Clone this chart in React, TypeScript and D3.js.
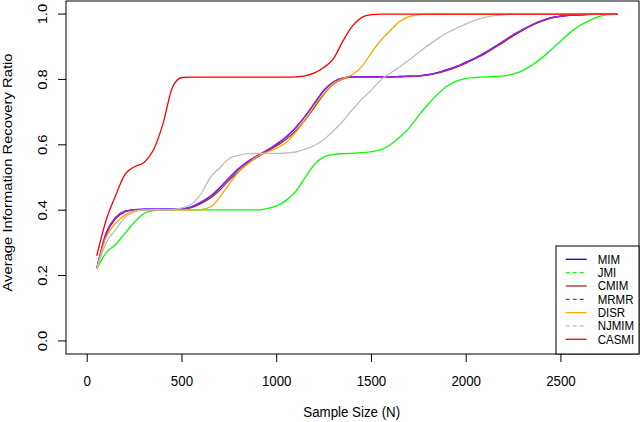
import React from "react";
import * as d3 from "d3";

const sampleSizes: number[] = d3.range(50, 2801, 50);

const MIM = [0.22,0.33,0.378,0.397,0.402,0.403,0.403,0.403,0.403,0.404,0.41,0.424,0.442,0.469,0.499,0.527,0.549,0.567,0.583,0.602,0.624,0.652,0.687,0.727,0.767,0.792,0.805,0.808,0.808,0.808,0.808,0.808,0.809,0.81,0.811,0.815,0.821,0.83,0.84,0.853,0.866,0.882,0.9,0.918,0.937,0.953,0.968,0.98,0.989,0.994,0.997,0.998,0.999,1,1,1];
const JMI = [0.22,0.27,0.295,0.33,0.364,0.39,0.399,0.401,0.401,0.401,0.401,0.401,0.401,0.401,0.401,0.401,0.401,0.401,0.405,0.413,0.43,0.457,0.5,0.54,0.563,0.571,0.573,0.574,0.576,0.579,0.585,0.6,0.624,0.652,0.69,0.725,0.755,0.78,0.795,0.803,0.806,0.808,0.809,0.811,0.817,0.828,0.845,0.866,0.892,0.918,0.944,0.965,0.98,0.992,0.998,1.0];
const CMIM = [0.22,0.325,0.374,0.395,0.401,0.402,0.402,0.402,0.402,0.403,0.408,0.42,0.437,0.462,0.492,0.52,0.544,0.563,0.58,0.597,0.617,0.643,0.676,0.715,0.756,0.786,0.802,0.807,0.808,0.808,0.808,0.808,0.808,0.809,0.81,0.813,0.819,0.828,0.838,0.85,0.864,0.879,0.897,0.915,0.934,0.951,0.966,0.978,0.988,0.993,0.996,0.998,0.999,1,1,1];
const MRMR = [0.22,0.33,0.378,0.397,0.402,0.403,0.403,0.403,0.403,0.404,0.41,0.425,0.443,0.47,0.5,0.528,0.55,0.568,0.584,0.603,0.625,0.653,0.688,0.728,0.768,0.793,0.805,0.808,0.808,0.808,0.808,0.808,0.809,0.81,0.811,0.815,0.821,0.83,0.84,0.853,0.866,0.882,0.9,0.918,0.937,0.953,0.968,0.98,0.989,0.994,0.997,0.998,0.999,1,1,1];
const DISR = [0.22,0.318,0.36,0.385,0.398,0.401,0.401,0.401,0.401,0.401,0.401,0.402,0.41,0.44,0.48,0.518,0.543,0.565,0.578,0.59,0.607,0.638,0.677,0.72,0.758,0.788,0.803,0.815,0.84,0.882,0.92,0.95,0.978,0.992,0.998,1,1,1,1,1,1,1,1,1,1,1,1,1,1,1,1,1,1,1,1,1];
const NJMIM = [0.22,0.3,0.34,0.378,0.395,0.4,0.401,0.401,0.402,0.407,0.418,0.45,0.5,0.53,0.558,0.568,0.573,0.574,0.574,0.574,0.575,0.578,0.587,0.598,0.617,0.643,0.673,0.708,0.74,0.768,0.798,0.82,0.839,0.86,0.883,0.905,0.925,0.943,0.957,0.97,0.982,0.99,0.995,0.998,1,1,1,1,1,1,1,1,1,1,1,1];
const CASMI = [0.26,0.37,0.445,0.51,0.533,0.546,0.585,0.665,0.776,0.806,0.807,0.807,0.807,0.807,0.807,0.807,0.807,0.807,0.807,0.807,0.807,0.808,0.811,0.82,0.837,0.864,0.918,0.964,0.99,0.998,1,1,1,1,1,1,1,1,1,1,1,1,1,1,1,1,1,1,1,1,1,1,1,1,1,1];

const seriesNames = ["MIM", "JMI", "CMIM", "MRMR", "DISR", "NJMIM", "CASMI"];
const seriesValues = [MIM, JMI, CMIM, MRMR, DISR, NJMIM, CASMI];
const seriesColors = ["#0000FF", "#00FF00", "#A52A2A", "#A020F0", "#FFA500", "#BEBEBE", "#FF0000"];
const legendDashed = [false, true, false, true, false, true, false];

const xTicks = [0, 500, 1000, 1500, 2000, 2500];
const yTicks = [0, 0.2, 0.4, 0.6, 0.8, 1.0];

const FONT = "'Liberation Sans', Arial, Helvetica, sans-serif";
const SX = 0.9;

export default function App() {
  const left = 66, right = 639, top = 1, bottom = 354;
  const x = d3.scaleLinear().domain([-112, 2912]).range([left, right]);
  const y = d3.scaleLinear().domain([-0.04, 1.04]).range([bottom, top]);
  const line = d3
    .line<number>()
    .x((_, i) => x(sampleSizes[i]))
    .y((d) => y(d))
    .curve(d3.curveMonotoneX);

  const legTop = 246;
  const legLeft = 556;
  const rowY = (i: number) => 259.3 + i * 13.33;

  return (
    <svg
      width={640}
      height={422}
      style={{ position: "absolute", left: 0, top: 0, display: "block", background: "#fff" }}
      fontFamily={FONT}
    >
      <rect x={0} y={0} width={640} height={422} fill="#fff" />
      <defs>
        <clipPath id="plotClip">
          <rect x={left} y={top} width={right - left} height={bottom - top} />
        </clipPath>
      </defs>
      <g clipPath="url(#plotClip)">
        {seriesValues.map((vals, k) => (
          <path
            key={seriesNames[k]}
            d={line(vals) || ""}
            fill="none"
            stroke={seriesColors[k]}
            strokeWidth={1.3}
            strokeLinejoin="round"
          />
        ))}
      </g>
      <rect x={left} y={top} width={right - left} height={bottom - top} fill="none" stroke="#000" strokeWidth={1} />
      {xTicks.map((t) => (
        <g key={"x" + t}>
          <line x1={x(t)} x2={x(t)} y1={bottom} y2={bottom + 8} stroke="#000" strokeWidth={1} />
          <text
            transform={`translate(${x(t)},385.7) scale(${SX},1)`}
            textAnchor="middle"
            fontSize={14.8}
            fill="#000"
          >
            {t}
          </text>
        </g>
      ))}
      {yTicks.map((t) => (
        <g key={"y" + t}>
          <line x1={left - 8} x2={left} y1={y(t)} y2={y(t)} stroke="#000" strokeWidth={1} />
          <text
            transform={`translate(46.5,${y(t)}) scale(${SX},1) rotate(-90)`}
            textAnchor="middle"
            fontSize={14.8}
            fill="#000"
          >
            {t.toFixed(1)}
          </text>
        </g>
      ))}
      <text
        transform={`translate(351.7,416.5) scale(${SX},1)`}
        textAnchor="middle"
        fontSize={14.8}
        fill="#000"
      >
        Sample Size (N)
      </text>
      <text
        transform={`translate(11.5,172.5) scale(${SX},1) rotate(-90)`}
        textAnchor="middle"
        fontSize={14.8}
        fill="#000"
      >
        Average Information Recovery Ratio
      </text>
      <rect x={legLeft} y={legTop} width={right - legLeft} height={bottom - legTop} fill="#fff" stroke="#000" strokeWidth={1} />
      {seriesNames.map((name, i) => (
        <g key={"leg" + name}>
          <line
            x1={565.7}
            x2={586.7}
            y1={rowY(i)}
            y2={rowY(i)}
            stroke={seriesColors[i]}
            strokeWidth={1.3}
            strokeDasharray={legendDashed[i] ? "4,3" : undefined}
          />
          <text
            transform={`translate(597.7,${rowY(i) + 4.5}) scale(${SX},1)`}
            fontSize={12.8}
            fill="#000"
          >
            {name}
          </text>
        </g>
      ))}
    </svg>
  );
}
